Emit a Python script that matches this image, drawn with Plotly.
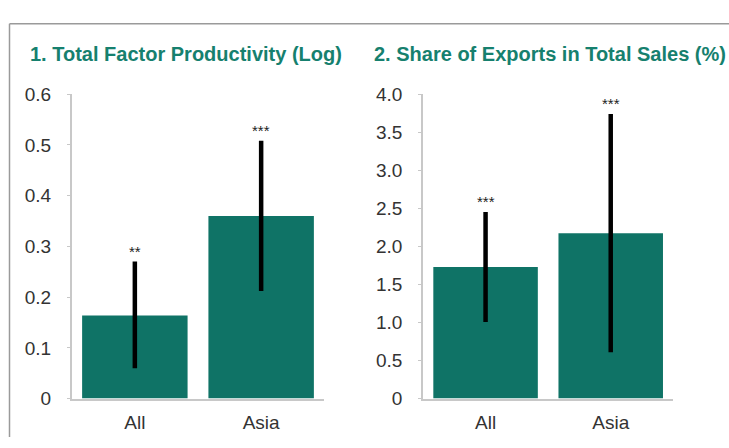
import plotly.graph_objects as go

categories = ["All", "Asia"]

tfp_values = [0.164, 0.360]
tfp_ci_low = [0.060, 0.212]
tfp_ci_high = [0.270, 0.508]
tfp_stars = ["**", "***"]

exp_values = [1.728, 2.172]
exp_ci_low = [1.007, 0.610]
exp_ci_high = [2.451, 3.740]
exp_stars = ["***", "***"]

titles = ["1. Total Factor Productivity (Log)", "2. Share of Exports in Total Sales (%)"]
tfp_ticks = [0, 0.1, 0.2, 0.3, 0.4, 0.5, 0.6]
tfp_ticktext = ["0", "0.1", "0.2", "0.3", "0.4", "0.5", "0.6"]
exp_ticks = [0, 0.5, 1.0, 1.5, 2.0, 2.5, 3.0, 3.5, 4.0]
exp_ticktext = ["0", "0.5", "1.0", "1.5", "2.0", "2.5", "3.0", "3.5", "4.0"]

BAR = "#0f7366"
TITLE = "#16806e"
FONT = "Liberation Sans, Arial, sans-serif"
W, H = 729, 448


def px(tx):
    return tx / W


def py(ty):
    return 1 - ty / H


fig = go.Figure()


def add_panel(vals, lo, hi, xa, ya):
    fig.add_trace(go.Bar(
        x=categories, y=vals, xaxis=xa, yaxis=ya,
        marker=dict(color=BAR, line=dict(width=0)),
        error_y=dict(type="data", symmetric=False,
                     array=[h - v for h, v in zip(hi, vals)],
                     arrayminus=[v - l for v, l in zip(vals, lo)],
                     color="black", thickness=4.5, width=0),
        showlegend=False, hoverinfo="skip",
    ))


add_panel(tfp_values, tfp_ci_low, tfp_ci_high, "x", "y")
add_panel(exp_values, exp_ci_low, exp_ci_high, "x2", "y2")

ydom = [py(407.7), py(88.3)]
axis_common = dict(showgrid=False, zeroline=False, showline=True,
                   linecolor="#c8c8c8", linewidth=1.5,
                   tickfont=dict(family=FONT, size=19, color="#333333"))

fig.update_layout(
    autosize=True,
    margin=dict(l=0, r=0, t=0, b=0),
    paper_bgcolor="white", plot_bgcolor="white",
    bargap=0.165,
    xaxis=dict(domain=[px(71.7), px(324.3)], anchor="y", ticks="",
               ticklabelstandoff=6, **axis_common),
    yaxis=dict(domain=ydom, anchor="x", range=[0, 0.6], tickvals=tfp_ticks,
               ticktext=tfp_ticktext, ticks="outside", ticklen=3,
               tickcolor="#c8c8c8", ticklabelstandoff=12, **axis_common),
    xaxis2=dict(domain=[px(423), px(673.3)], anchor="y2", ticks="",
                ticklabelstandoff=6, **axis_common),
    yaxis2=dict(domain=ydom, anchor="x2", range=[0, 4.0], tickvals=exp_ticks,
                ticktext=exp_ticktext, ticks="outside", ticklen=3,
                tickcolor="#c8c8c8", ticklabelstandoff=12, **axis_common),
)

anns = []
for xa, ya, hi, stars in [("x", "y", tfp_ci_high, tfp_stars), ("x2", "y2", exp_ci_high, exp_stars)]:
    for c, h, s in zip(categories, hi, stars):
        anns.append(dict(x=c, y=h, xref=xa, yref=ya, text=s, showarrow=False,
                         yanchor="bottom", yshift=0,
                         font=dict(family=FONT, size=15, color="#222222")))

anns.append(dict(x=px(28), y=py(46.5), xref="paper", yref="paper",
                 text="<b>" + titles[0] + "</b>", showarrow=False,
                 xanchor="left", yanchor="middle",
                 font=dict(family=FONT, size=20, color=TITLE)))
anns.append(dict(x=px(372), y=py(46.5), xref="paper", yref="paper",
                 text="<b>" + titles[1] + "</b>", showarrow=False,
                 xanchor="left", yanchor="middle",
                 font=dict(family=FONT, size=20, color=TITLE)))
fig.update_layout(annotations=anns)

fig.add_shape(type="line", xref="paper", yref="paper",
              x0=px(9.5), x1=1, y0=py(14.5), y1=py(14.5),
              line=dict(color="#9a9a9a", width=1.5))
fig.add_shape(type="line", xref="paper", yref="paper",
              x0=px(9.5), x1=px(9.5), y0=0, y1=py(14.5),
              line=dict(color="#9a9a9a", width=1.5))

post = (
    "var de=document.documentElement, b=document.body;"
    "de.style.margin='0';de.style.padding='0';de.style.overflow='hidden';"
    "b.style.margin='0';b.style.padding='0';b.style.overflow='hidden';"
    "var gd=document.getElementById('{plot_id}');"
    "gd.style.width=window.innerWidth+'px';gd.style.height=window.innerHeight+'px';"
    "Plotly.Plots.resize(gd);"
)

fig.write_html("out.html", config={"displayModeBar": False, "responsive": True},
               default_width="100vw", default_height="100vh",
               post_script=post)
